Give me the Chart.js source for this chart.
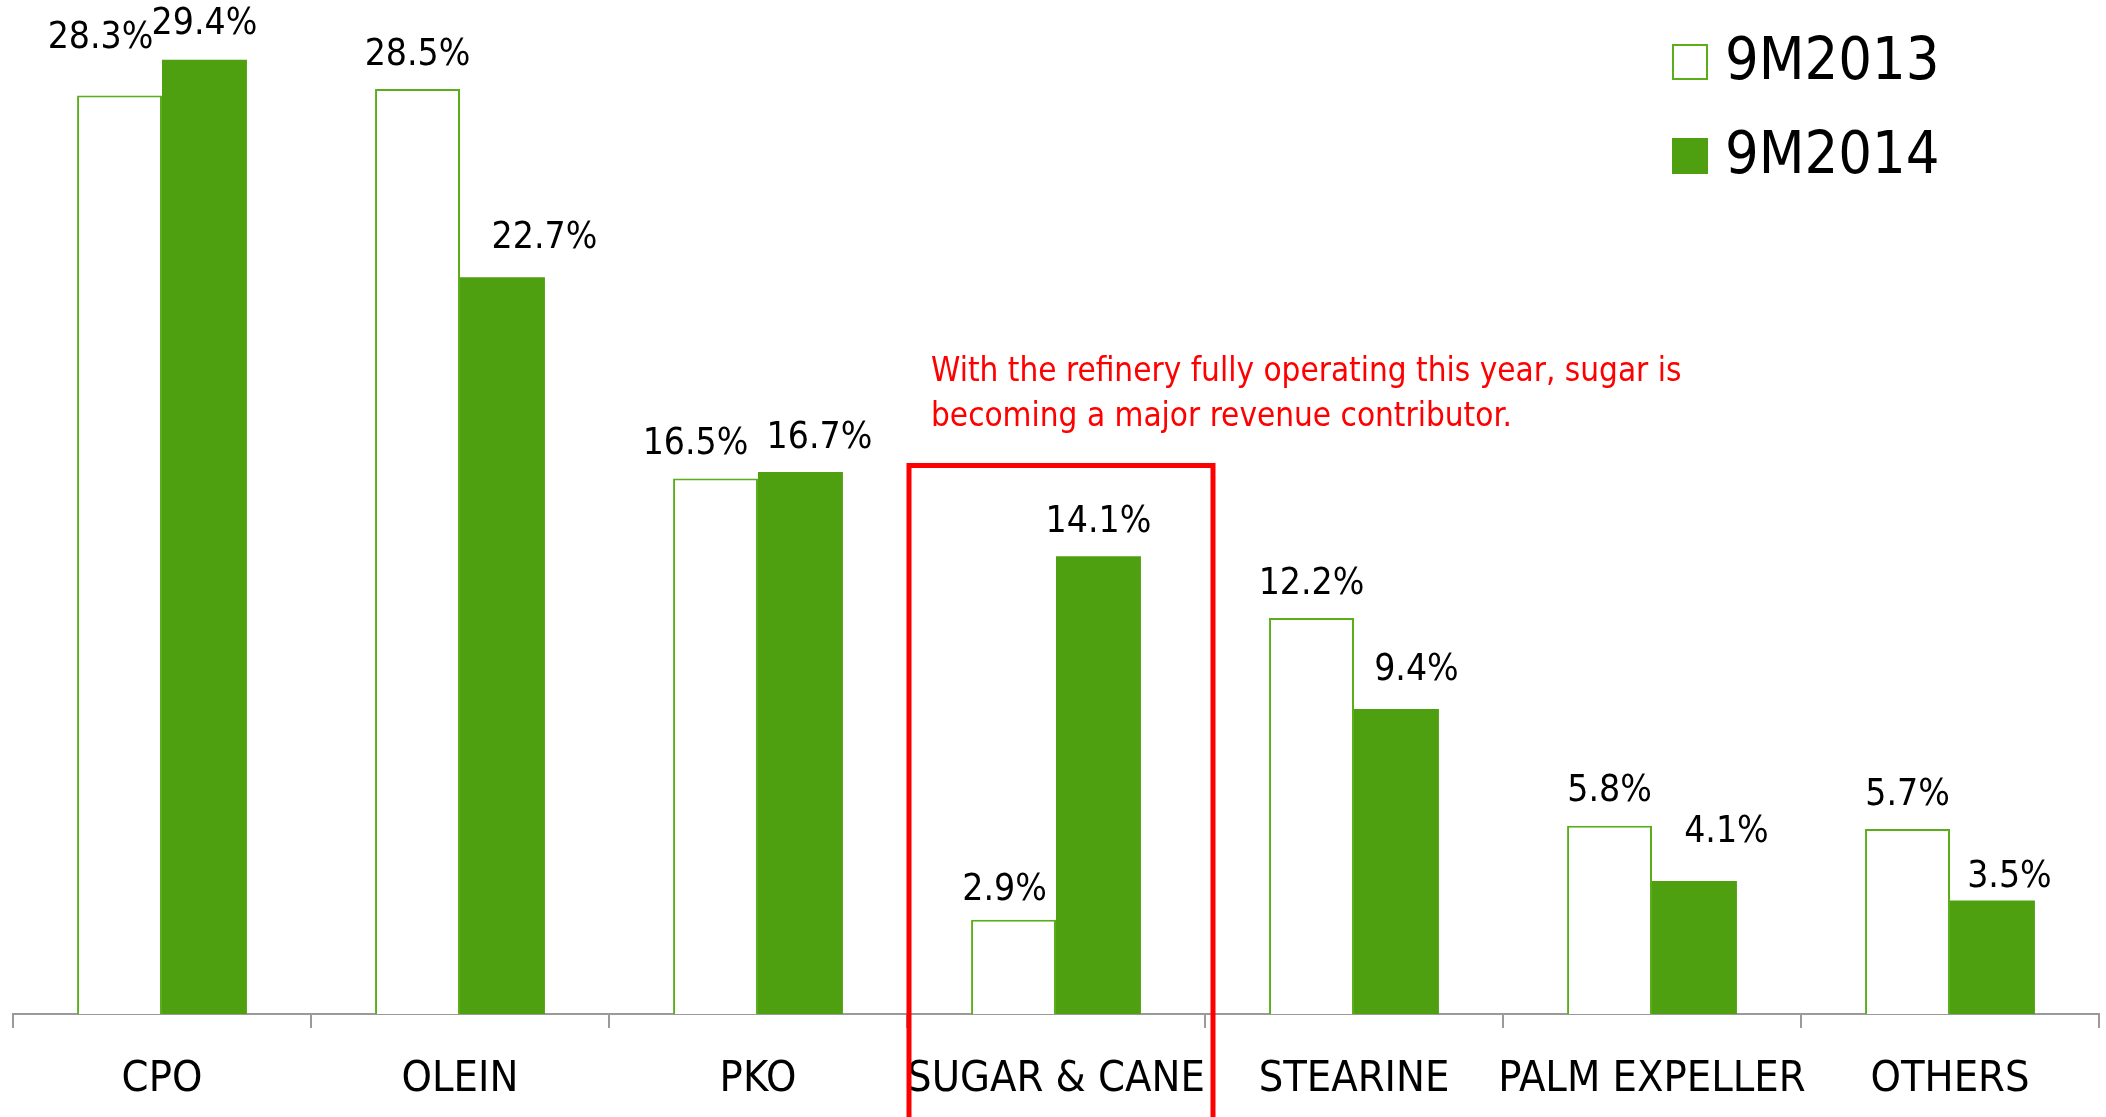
<!DOCTYPE html>
<html>
<head>
<meta charset="utf-8">
<script src="https://cdn.jsdelivr.net/npm/chart.js@4"></script>
<style>
  html, body { margin: 0; padding: 0; background: #fff; }
  #wrap { width: 2106px; height: 1117px; position: relative; }
</style>
</head>
<body>
<div id="wrap"><canvas id="chart"></canvas></div>
<script>
const categories = ['CPO', 'OLEIN', 'PKO', 'SUGAR & CANE', 'STEARINE', 'PALM EXPELLER', 'OTHERS'];
const seriesNames = ['9M2013', '9M2014'];
const share2013 = [28.3, 28.5, 16.5, 2.9, 12.2, 5.8, 5.7];
const share2014 = [29.4, 22.7, 16.7, 14.1, 9.4, 4.1, 3.5];
const noteLines = ['With the refinery fully operating this year, sugar is', 'becoming a major revenue contributor.'];
const highlightIndex = 3, highlightTop = 16.9;

// hand nudges of the value labels, as in the slide
const nudge2013 = [[-19, -23], [0, 0], [-20, 0], [-9, 5], [0, 0], [0, 0], [0, 0]];
const nudge2014 = [[0, -1], [42, -5], [19, 0], [0, 0], [20, -5], [32, -15], [17, 11]];

const GREEN = '#4ea011', FONT = '"DejaVu Sans Condensed", "DejaVu Sans", sans-serif';

const valueLabels = {
  id: 'valueLabels',
  afterDatasetsDraw(c) {
    const ctx = c.ctx;
    ctx.save();
    ctx.font = `37px ${FONT}`;
    ctx.fillStyle = '#000';
    ctx.textAlign = 'center';
    ctx.textBaseline = 'middle';
    [nudge2013, nudge2014].forEach((nudge, di) => {
      c.getDatasetMeta(di).data.forEach((bar, i) => {
        const v = c.data.datasets[di].data[i];
        ctx.fillText(v.toFixed(1) + '%', bar.x + nudge[i][0], bar.y - 34 + nudge[i][1]);
      });
    });
    ctx.restore();
  }
};

const sideLegend = {
  id: 'sideLegend',
  afterDraw(c) {
    const ctx = c.ctx;
    ctx.save();
    ctx.font = `59px ${FONT}`;
    ctx.textBaseline = 'middle';
    c.data.datasets.forEach((ds, i) => {
      const cy = 62 + i * 94;
      ctx.fillStyle = ds.backgroundColor;
      ctx.fillRect(1672, cy - 18, 36, 36);
      ctx.strokeStyle = ds.borderColor;
      ctx.lineWidth = 2;
      ctx.strokeRect(1673, cy - 17, 34, 34);
      ctx.fillStyle = '#000';
      ctx.fillText(ds.label, 1725, cy + 2);
    });
    ctx.restore();
  }
};

const highlightBox = {
  id: 'highlightBox',
  afterDraw(c) {
    const ctx = c.ctx, x = c.scales.x, y = c.scales.y;
    const w = x.getPixelForValue(1) - x.getPixelForValue(0);
    const left = x.getPixelForValue(highlightIndex) - w / 2 + 2;
    const right = x.getPixelForValue(highlightIndex) + w / 2 + 8;
    const top = y.getPixelForValue(highlightTop);
    ctx.save();
    ctx.strokeStyle = '#ff0000';
    ctx.lineWidth = 5;
    ctx.beginPath();
    ctx.moveTo(left, 1130);
    ctx.lineTo(left, top);
    ctx.lineTo(right, top);
    ctx.lineTo(right, 1130);
    ctx.stroke();
    ctx.fillStyle = '#ff0000';
    ctx.font = `33px ${FONT}`;
    ctx.textBaseline = 'middle';
    noteLines.forEach((t, i) => ctx.fillText(t, left + 22, top - 93 + i * 45));
    ctx.restore();
  }
};

new Chart(document.getElementById('chart'), {
  type: 'bar',
  data: {
    labels: categories,
    datasets: [
      { label: seriesNames[0], data: share2013, backgroundColor: '#ffffff', borderColor: '#5aae1c', borderWidth: 2 },
      { label: seriesNames[1], data: share2014, backgroundColor: GREEN, borderColor: GREEN, borderWidth: 0 }
    ]
  },
  options: {
    responsive: true, maintainAspectRatio: false, animation: false,
    layout: { padding: { left: 13, right: 7, top: 0, bottom: 0 } },
    datasets: { bar: { categoryPercentage: 0.57, barPercentage: 1.0 } },
    plugins: { legend: { display: false }, tooltip: { enabled: false } },
    scales: {
      x: {
        afterFit: s => { s.height = 103; },
        grid: { offset: true, drawOnChartArea: false, tickLength: 14, color: '#9a9a9a', lineWidth: 2 },
        border: { display: true, color: '#9a9a9a', width: 2 },
        ticks: { color: '#000', font: { family: FONT, size: 43 }, padding: 26, maxRotation: 0, autoSkip: false }
      },
      y: { display: false, min: 0, max: 31.24 }
    }
  },
  plugins: [valueLabels, sideLegend, highlightBox]
});
</script>
</body>
</html>
